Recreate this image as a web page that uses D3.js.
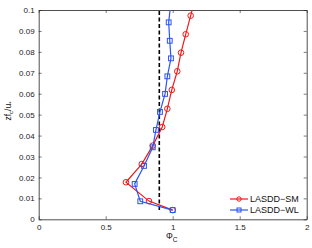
<!DOCTYPE html>
<meta charset="utf-8">
<head>
  <script src="https://cdn.jsdelivr.net/npm/d3@7"></script>
  <style>
    body { margin: 0; background: #fff; }
    text { font-family: "Liberation Sans", Arial, sans-serif; }
  </style>
</head>
<body>
  <svg width="312" height="248"></svg>
  <script>
    // LASDD-SM (red circles)
    const smZ   = [0.0044, 0.0087, 0.0177, 0.0264, 0.0352, 0.0441, 0.0528, 0.0618, 0.0707, 0.0796, 0.0884, 0.0973, 0.1061];
    const smPhi = [1.0, 0.823, 0.651, 0.769, 0.851, 0.922, 0.960, 0.993, 1.034, 1.062, 1.097, 1.134, 1.17];
    // LASDD-WL (blue squares)
    const wlZ   = [0.0044, 0.0086, 0.0169, 0.0255, 0.0344, 0.0427, 0.0513, 0.0599, 0.0683, 0.0769, 0.0853, 0.0941, 0.1027];
    const wlPhi = [1.0, 0.758, 0.716, 0.786, 0.851, 0.875, 0.905, 0.943, 0.960, 0.987, 0.978, 0.970, 0.985];
    const refPhi = 0.9;
    const refZ = [0.0044, 0.1];
    const xTicks = [0, 0.5, 1, 1.5, 2];
    const yTicks = [0, 0.01, 0.02, 0.03, 0.04, 0.05, 0.06, 0.07, 0.08, 0.09, 0.1];

    const svg = d3.select("svg");
    const mLeft = 38.7, mRight = 306.7, mTop = 10, mBottom = 219.3;

    const x = d3.scaleLinear().domain([0, 2]).range([mLeft, mRight]);
    const y = d3.scaleLinear().domain([0, 0.1]).range([mBottom, mTop]);

    svg.append("defs").append("clipPath").attr("id", "clip")
      .append("rect").attr("x", mLeft).attr("y", mTop)
      .attr("width", mRight - mLeft).attr("height", mBottom - mTop);

    const fmt = d => d === 0 ? "0" : String(d);

    // axes with inward ticks, mirrored
    const gx = svg.append("g").attr("transform", `translate(0,${mBottom})`)
      .call(d3.axisBottom(x).tickValues(xTicks).tickFormat(fmt).tickSizeInner(-3).tickSizeOuter(0).tickPadding(5));
    const gxt = svg.append("g").attr("transform", `translate(0,${mTop})`)
      .call(d3.axisTop(x).tickValues(xTicks).tickFormat("").tickSizeInner(-3).tickSizeOuter(0));
    const gy = svg.append("g").attr("transform", `translate(${mLeft},0)`)
      .call(d3.axisLeft(y).tickValues(yTicks).tickFormat(fmt).tickSizeInner(-3).tickSizeOuter(0).tickPadding(4));
    const gyr = svg.append("g").attr("transform", `translate(${mRight},0)`)
      .call(d3.axisRight(y).tickValues(yTicks).tickFormat("").tickSizeInner(-3).tickSizeOuter(0));
    [gx, gxt, gy, gyr].forEach(g => {
      g.selectAll("path").attr("stroke", "#222").attr("stroke-width", 0.8);
      g.selectAll("line").attr("stroke", "#222").attr("stroke-width", 0.6);
      g.selectAll("text").attr("font-size", 8).attr("fill", "#222");
    });

    const plot = svg.append("g").attr("clip-path", "url(#clip)");

    // reference dashed line
    plot.append("line")
      .attr("x1", x(refPhi)).attr("x2", x(refPhi))
      .attr("y1", y(refZ[0])).attr("y2", y(refZ[1]))
      .attr("stroke", "#000").attr("stroke-width", 1.6)
      .attr("stroke-dasharray", "4,2.5");

    const line = d3.line().x(d => x(d[0])).y(d => y(d[1]));
    const sm = smPhi.map((p, i) => [p, smZ[i]]);
    const wl = wlPhi.map((p, i) => [p, wlZ[i]]);

    const red = "#f01818", blue = "#2b55f0";

    plot.append("path").datum(sm).attr("d", line)
      .attr("fill", "none").attr("stroke", red).attr("stroke-width", 1.2);
    plot.selectAll(".sm").data(sm).enter().append("circle")
      .attr("cx", d => x(d[0])).attr("cy", d => y(d[1])).attr("r", 2.8)
      .attr("fill", "none").attr("stroke", red).attr("stroke-width", 1);

    plot.append("path").datum(wl).attr("d", line)
      .attr("fill", "none").attr("stroke", blue).attr("stroke-width", 1.2);
    plot.selectAll(".wl").data(wl).enter().append("rect")
      .attr("x", d => x(d[0]) - 2.4).attr("y", d => y(d[1]) - 2.4)
      .attr("width", 4.8).attr("height", 4.8)
      .attr("fill", "none").attr("stroke", blue).attr("stroke-width", 1);

    // legend
    const leg = [["LASDD\u2212SM", red, "c"], ["LASDD\u2212WL", blue, "s"]];
    leg.forEach((l, i) => {
      const ly = 199 + i * 11;
      svg.append("line").attr("x1", 230).attr("x2", 248).attr("y1", ly).attr("y2", ly)
        .attr("stroke", l[1]).attr("stroke-width", 1.2);
      if (l[2] === "c") {
        svg.append("circle").attr("cx", 239).attr("cy", ly).attr("r", 2.2)
          .attr("fill", "none").attr("stroke", l[1]).attr("stroke-width", 1);
      } else {
        svg.append("rect").attr("x", 237).attr("y", ly - 2).attr("width", 4).attr("height", 4)
          .attr("fill", "none").attr("stroke", l[1]).attr("stroke-width", 1);
      }
      svg.append("text").attr("x", 250).attr("y", ly + 3.2).attr("font-size", 9)
        .attr("fill", "#111").text(l[0]);
    });

    // axis labels
    const xl = svg.append("text").attr("x", 166).attr("y", 239).attr("font-size", 8.5).attr("fill", "#111");
    xl.append("tspan").text("\u03A6");
    xl.append("tspan").attr("font-size", 6.5).attr("dy", 2.5).text("C");

    const yl = svg.append("text").attr("transform", "translate(11,111) rotate(-90)")
      .attr("text-anchor", "middle").attr("font-size", 8.5).attr("fill", "#111");
    yl.append("tspan").text("zf");
    yl.append("tspan").attr("font-size", 6).attr("dy", 2).text("c");
    yl.append("tspan").attr("dy", -2).text("/u");
    yl.append("tspan").attr("font-size", 6).attr("dy", 2).text("*");
  </script>
</body>
